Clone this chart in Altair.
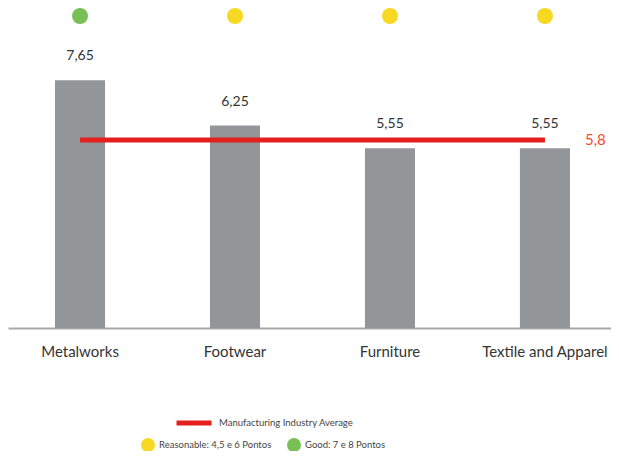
import altair as alt
import pandas as pd

categories = ["Metalworks", "Footwear", "Furniture", "Textile and Apparel"]
scores = [7.65, 6.25, 5.55, 5.55]
score_labels = ["7,65", "6,25", "5,55", "5,55"]
ratings = ["Good: 7 e 8 Pontos", "Reasonable: 4,5 e 6 Pontos",
           "Reasonable: 4,5 e 6 Pontos", "Reasonable: 4,5 e 6 Pontos"]
rating_order = ["Reasonable: 4,5 e 6 Pontos", "Good: 7 e 8 Pontos"]
rating_colors = ["#F7D923", "#78BF56"]
average_value = 5.8
average_label = "5,8"
average_name = "Manufacturing Industry Average"

bars_df = pd.DataFrame({"cat": categories, "score": scores,
                        "label": score_labels, "rating": ratings})
avg_df = pd.DataFrame({"cat": [categories[0]], "cat2": [categories[-1]],
                       "value": [average_value], "label": [average_label],
                       "name": [average_name]})
avg_lbl_df = pd.DataFrame({"cat": [categories[-1]], "value": [average_value],
                           "label": [average_label]})

FONT = "Lato"

x_scale = alt.Scale(domain=categories, paddingInner=0.677, paddingOuter=0.284, align=0.534)
x = alt.X("cat:N", title=None, scale=x_scale,
          axis=alt.Axis(labelAngle=0, ticks=False, labelFontSize=15,
                        labelColor="#333333", labelFont=FONT, labelPadding=16,
                        domainColor="#A8A8AA", domainWidth=2))
y_scale = alt.Scale(domain=[0, 9.877], nice=False, zero=True)

bars = alt.Chart(bars_df).mark_bar(color="#939598").encode(
    x=x,
    y=alt.Y("score:Q", scale=y_scale, axis=None),
)

values = alt.Chart(bars_df).mark_text(
    dy=-24, fontSize=14, font=FONT, color="#333333"
).encode(
    x=alt.X("cat:N", scale=x_scale),
    y=alt.Y("score:Q", scale=y_scale),
    text="label:N",
)

dots = alt.Chart(bars_df).mark_point(filled=True, shape="circle", size=256, opacity=1).encode(
    x=alt.X("cat:N", scale=x_scale),
    y=alt.value(8),
    fill=alt.Fill("rating:N",
                  scale=alt.Scale(domain=rating_order, range=rating_colors),
                  legend=alt.Legend(title=None, orient="none", direction="horizontal",
                                    legendX=133, legendY=430, symbolSize=196,
                                    symbolType="circle", labelFontSize=9.5,
                                    labelFont=FONT, labelColor="#444444",
                                    columnPadding=15, labelOffset=4,
                                    symbolStrokeWidth=0)),
)

avg_rule = alt.Chart(avg_df).mark_rule(strokeWidth=5).encode(
    x=alt.X("cat:N", scale=x_scale),
    x2="cat2:N",
    y=alt.Y("value:Q", scale=y_scale),
    stroke=alt.Stroke("name:N",
                      scale=alt.Scale(range=["#E4201F"]),
                      legend=alt.Legend(title=None, orient="none",
                                        legendX=166, legendY=395,
                                        symbolType="stroke", symbolSize=1225,
                                        symbolStrokeWidth=5, labelFontSize=9.5,
                                        labelFont=FONT, labelColor="#444444",
                                        labelOffset=5)),
)

avg_text = alt.Chart(avg_lbl_df).mark_text(
    dx=40, fontSize=15, font=FONT, color="#F04B2D", align="left"
).encode(
    x=alt.X("cat:N", scale=x_scale),
    y=alt.Y("value:Q", scale=y_scale),
    text="label:N",
)

chart = alt.layer(bars, avg_rule, values, avg_text, dots).properties(
    width=603, height=320,
    autosize=alt.AutoSizeParams(type="none"),
    padding={"left": 0, "top": 0, "right": 0, "bottom": 123},
).configure_view(strokeWidth=0)

chart.save("out.html", embed_options={"renderer": "svg", "actions": False})
